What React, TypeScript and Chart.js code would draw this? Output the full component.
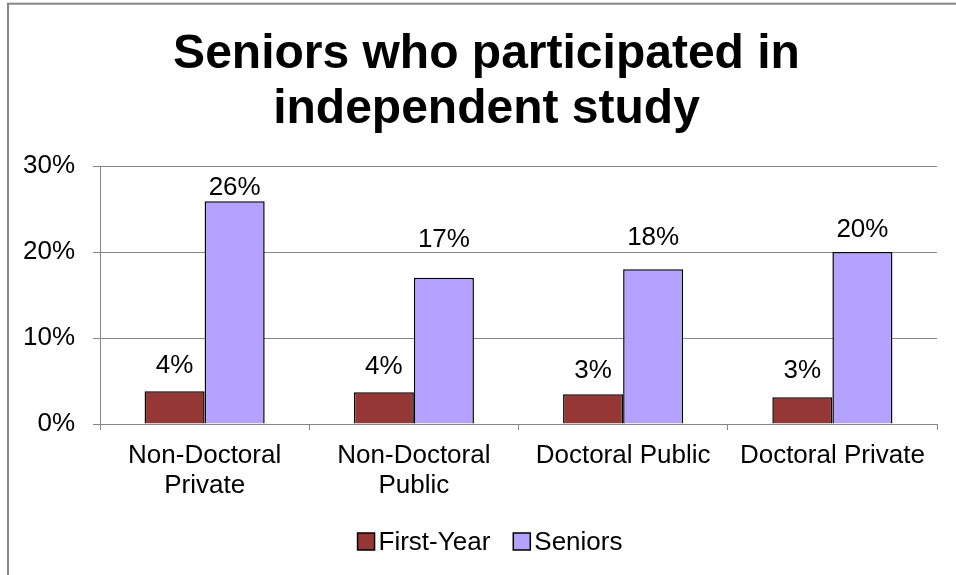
import { useEffect, useRef } from "react";
import { Chart, registerables } from "chart.js";

Chart.register(...registerables);

const titleLines = ["Seniors who participated in", "independent study"];
const categories: (string | string[])[] = [
  ["Non-Doctoral", "Private"],
  ["Non-Doctoral", "Public"],
  "Doctoral Public",
  "Doctoral Private",
];
const seriesNames = ["First-Year", "Seniors"];
const firstYear = [3.8, 3.7, 3.45, 3.1];
const seniors = [25.9, 17, 18, 20];
const yMin = 0;
const yMax = 30;
const yStep = 10;

const FAMILY = "'Liberation Sans', Arial, Helvetica, sans-serif";
const GRAY = "#868686";
const COLORS = ["#953735", "#B3A2FF"];
// vertical gap (px) between bar top and its value label, as placed in the reference
const labelLift = [
  [18, 18, 16, 19],
  [6, 31, 24, 15],
];

const borderPlugin = {
  id: "outerBorder",
  beforeDraw(chart: any) {
    const ctx = chart.ctx;
    ctx.save();
    ctx.fillStyle = "#fff";
    ctx.fillRect(0, 0, chart.width, chart.height);
    ctx.strokeStyle = GRAY;
    ctx.lineWidth = 2;
    ctx.strokeRect(8, 3.7, 2000, 2000);
    ctx.restore();
  },
};

const titlePlugin = {
  id: "titleText",
  afterDraw(chart: any) {
    const ctx = chart.ctx;
    ctx.save();
    ctx.font = `bold 48px ${FAMILY}`;
    ctx.fillStyle = "#000";
    ctx.textAlign = "center";
    ctx.textBaseline = "alphabetic";
    const cx = 486.5;
    titleLines.forEach((line, i) => {
      ctx.fillText(line, cx, 68 + i * 55);
    });
    ctx.restore();
  },
};

const valueLabelPlugin = {
  id: "valueLabels",
  afterDatasetsDraw(chart: any) {
    const ctx = chart.ctx;
    ctx.save();
    ctx.font = `26px ${FAMILY}`;
    ctx.fillStyle = "#000";
    ctx.textAlign = "center";
    ctx.textBaseline = "alphabetic";
    chart.data.datasets.forEach((ds: any, di: number) => {
      chart.getDatasetMeta(di).data.forEach((bar: any, i: number) => {
        const v = ds.data[i] as number;
        ctx.fillText(Math.round(v) + "%", bar.x, bar.y - labelLift[di][i]);
      });
    });
    ctx.restore();
  },
};

const legendPlugin = {
  id: "bottomLegend",
  afterDraw(chart: any) {
    const ctx = chart.ctx;
    ctx.save();
    ctx.font = `26px ${FAMILY}`;
    const box = 17;
    const gapText = 4;
    const gapItem = 23;
    const widths = chart.data.datasets.map((ds: any) => ctx.measureText(ds.label).width);
    let total = 0;
    widths.forEach((w: number, i: number) => {
      total += box + gapText + w + (i > 0 ? gapItem : 0);
    });
    const cx = 490;
    const cy = 541.5;
    let x = cx - total / 2;
    chart.data.datasets.forEach((ds: any, i: number) => {
      ctx.fillStyle = ds.backgroundColor;
      ctx.fillRect(x, cy - box / 2, box, box);
      ctx.strokeStyle = "#000";
      ctx.lineWidth = 1.5;
      ctx.strokeRect(x, cy - box / 2, box, box);
      ctx.fillStyle = "#000";
      ctx.textAlign = "left";
      ctx.textBaseline = "middle";
      ctx.fillText(ds.label, x + box + gapText, cy + 1);
      x += box + gapText + widths[i] + gapItem;
    });
    ctx.restore();
  },
};

export default function App() {
  const ref = useRef<HTMLCanvasElement>(null);
  useEffect(() => {
    if (!ref.current) return;
    const chart = new Chart(ref.current, {
      type: "bar",
      data: {
        labels: categories,
        datasets: [
          {
            label: seriesNames[0],
            data: firstYear,
            backgroundColor: COLORS[0],
            borderColor: "#000",
            borderWidth: 1.5,
          },
          {
            label: seriesNames[1],
            data: seniors,
            backgroundColor: COLORS[1],
            borderColor: "#000",
            borderWidth: 1.5,
          },
        ],
      },
      options: {
        responsive: false,
        animation: false,
        layout: { padding: { top: 166, left: 0, right: 19, bottom: 0 } },
        datasets: { bar: { categoryPercentage: 0.574, barPercentage: 1 } },
        plugins: {
          legend: { display: false },
          tooltip: { enabled: false },
          title: { display: false },
        },
        scales: {
          x: {
            grid: { drawOnChartArea: false, color: GRAY, tickLength: 6, offset: true },
            border: { color: GRAY, width: 1 },
            ticks: {
              color: "#000",
              font: { family: FAMILY, size: 26, lineHeight: 1.15 },
              padding: 11,
              maxRotation: 0,
              autoSkip: false,
            },
            afterFit: (s: any) => {
              s.height = 151;
            },
          },
          y: {
            min: yMin,
            max: yMax,
            ticks: {
              stepSize: yStep,
              callback: (v: any) => v + "%",
              color: "#000",
              font: { family: FAMILY, size: 26 },
              padding: 18,
            },
            grid: { color: GRAY, tickLength: 7 },
            border: { color: GRAY, width: 1 },
            afterFit: (s: any) => {
              s.width = 100;
            },
          },
        },
      },
      plugins: [borderPlugin, titlePlugin, valueLabelPlugin, legendPlugin],
    } as any);
    return () => chart.destroy();
  }, []);
  return (
    <div style={{ position: "absolute", left: 0, top: 0, width: 956, height: 575 }}>
      <canvas ref={ref} width={956} height={575} style={{ width: 956, height: 575, display: "block" }} />
    </div>
  );
}
